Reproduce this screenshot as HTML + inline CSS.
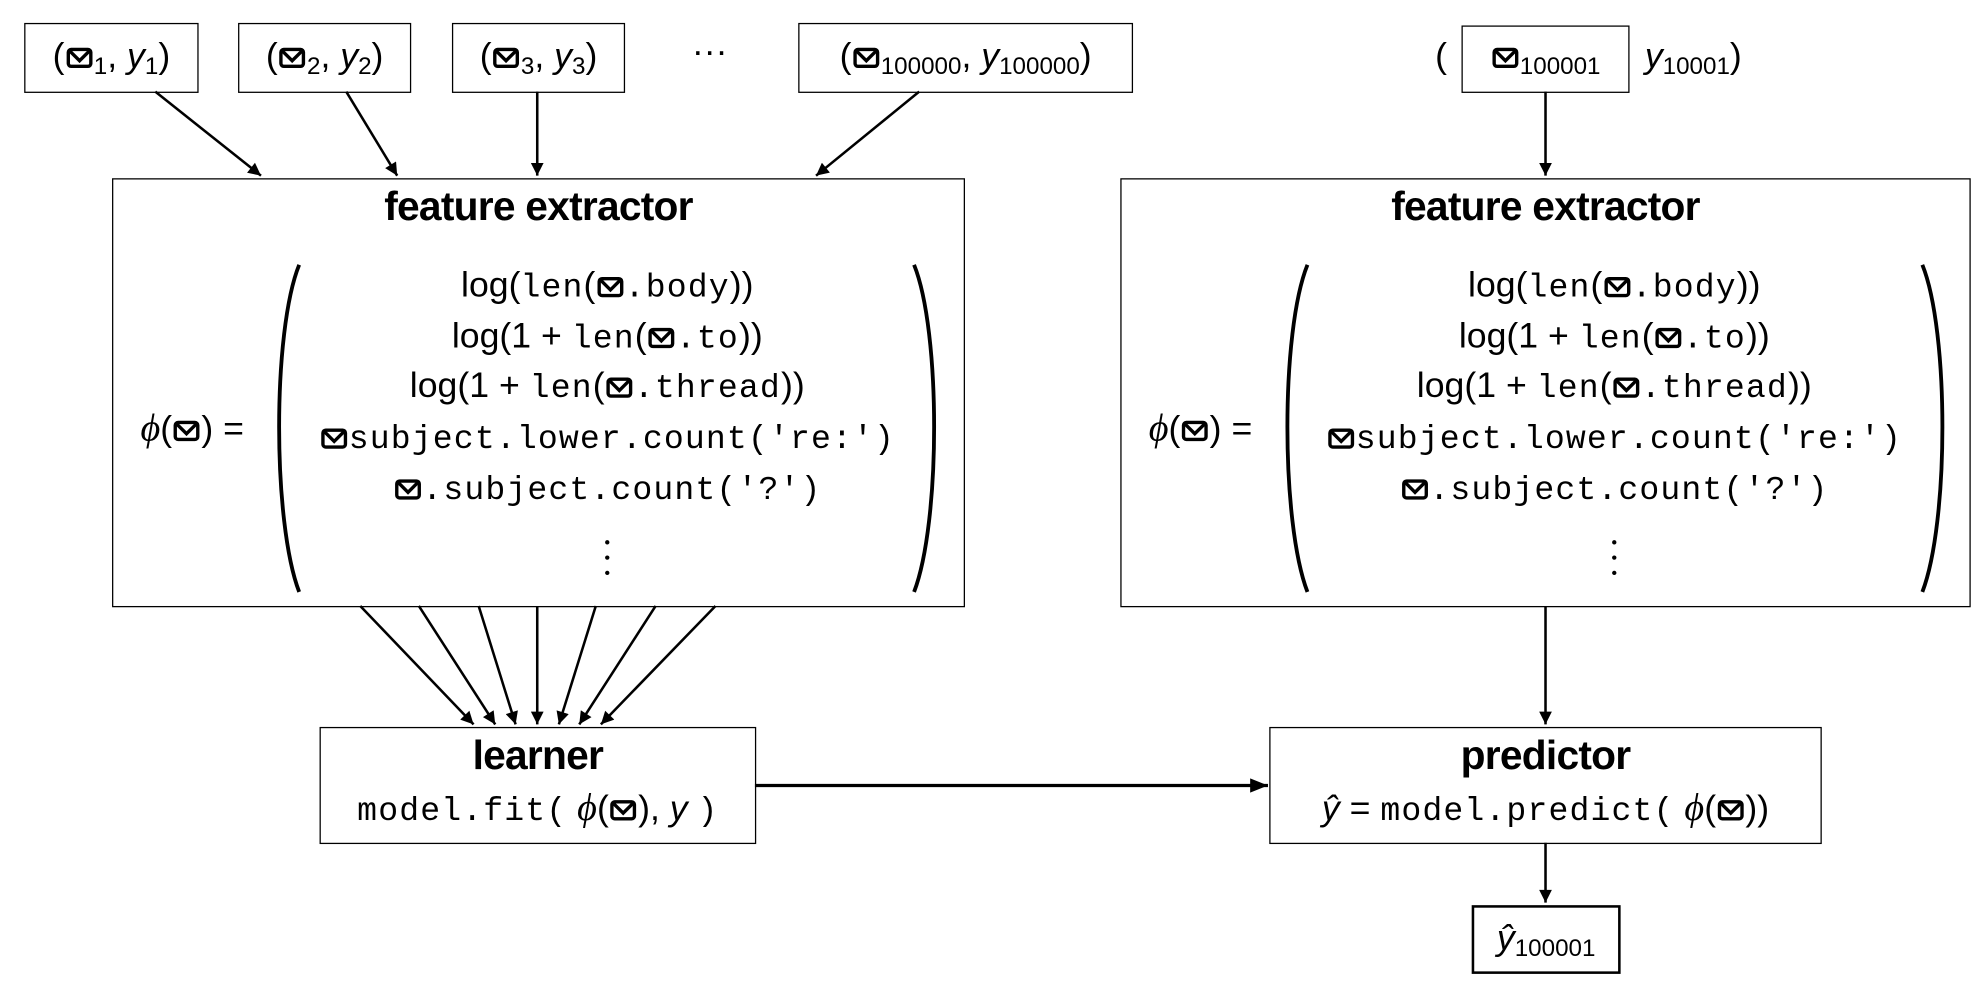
<!DOCTYPE html>
<html><head><meta charset="utf-8"><style>
html,body{margin:0;padding:0;background:#fff;}
body{width:1986px;height:994px;overflow:hidden;position:relative;}
#w{position:absolute;left:0;top:0;width:1560px;height:781px;transform:scale(1.27308);transform-origin:0 0;font-family:"Liberation Sans",sans-serif;color:#000;}
.b{position:absolute;border:1.5px solid #000;box-sizing:border-box;}
.t{position:absolute;white-space:nowrap;text-align:center;font-size:28px;line-height:32px;}
.m{font-family:"Liberation Mono",monospace;font-size:26px;letter-spacing:0.9px;}
.ti{font-weight:bold;font-size:32px;letter-spacing:-0.6px;}
.e{display:inline-block;width:21px;height:17px;vertical-align:-1px;margin:0 1px;}
i{font-style:italic;}
.ph{font-family:"Liberation Serif",serif;font-style:italic;font-size:30px;}
sub{font-size:19px;vertical-align:-5px;line-height:0;}
svg.l{position:absolute;left:0;top:0;}
</style></head><body><div id="w">
<svg class="l" width="1560" height="781" viewBox="0 0 1560 781">
<defs><marker id="a" viewBox="0 0 10 10" refX="10" refY="5" markerWidth="13" markerHeight="10" markerUnits="userSpaceOnUse" orient="auto"><path d="M0,0 L10,5 L0,10 z"/></marker>
<marker id="a2" viewBox="0 0 10 10" refX="10" refY="5" markerWidth="14" markerHeight="14" markerUnits="userSpaceOnUse" orient="auto"><path d="M0,1 L10,5 L0,9 z"/></marker></defs>
<g stroke="#000" stroke-width="2" fill="none">
<line x1="122" y1="72" x2="205" y2="138" marker-end="url(#a)"/>
<line x1="272" y1="72" x2="312" y2="138" marker-end="url(#a)"/>
<line x1="422" y1="72" x2="422" y2="138" marker-end="url(#a)"/>
<line x1="722" y1="72" x2="641" y2="138" marker-end="url(#a)"/>
<line x1="1214" y1="72" x2="1214" y2="138" marker-end="url(#a)"/>
<line x1="283" y1="476" x2="372" y2="569" marker-end="url(#a)"/>
<line x1="329" y1="476" x2="389" y2="569" marker-end="url(#a)"/>
<line x1="376" y1="476" x2="405" y2="569" marker-end="url(#a)"/>
<line x1="422" y1="476" x2="422" y2="569" marker-end="url(#a)"/>
<line x1="468" y1="476" x2="439" y2="569" marker-end="url(#a)"/>
<line x1="515" y1="476" x2="455" y2="569" marker-end="url(#a)"/>
<line x1="562" y1="476" x2="472" y2="569" marker-end="url(#a)"/>
<line x1="1214" y1="476" x2="1214" y2="569" marker-end="url(#a)"/>
<line x1="1214" y1="662" x2="1214" y2="709" marker-end="url(#a)"/>
<line x1="593" y1="617" x2="996" y2="617" stroke-width="2.6" marker-end="url(#a2)"/>
<path d="M235,208 C214,260 214,410 235,465" stroke-width="3"/>
<path d="M718,208 C739,260 739,410 718,465" stroke-width="3"/>
<path d="M1027,208 C1006,260 1006,410 1027,465" stroke-width="3"/>
<path d="M1510,208 C1531,260 1531,410 1510,465" stroke-width="3"/>
</g>
<g fill="#000"><circle cx="477" cy="426" r="1.7"/><circle cx="477" cy="438" r="1.7"/><circle cx="477" cy="450" r="1.7"/>
<circle cx="1268" cy="426" r="1.7"/><circle cx="1268" cy="438" r="1.7"/><circle cx="1268" cy="450" r="1.7"/></g>
</svg>

<div class="b" style="left:19px;top:18px;width:137px;height:55px"></div>
<div class="b" style="left:187px;top:18px;width:136px;height:55px"></div>
<div class="b" style="left:355px;top:18px;width:136px;height:55px"></div>
<div class="b" style="left:627px;top:18px;width:263px;height:55px"></div>
<div class="b" style="left:1148px;top:20px;width:132px;height:53px"></div>
<div class="b" style="left:88px;top:140px;width:670px;height:337px"></div>
<div class="b" style="left:880px;top:140px;width:668px;height:337px"></div>
<div class="b" style="left:251px;top:571px;width:343px;height:92px"></div>
<div class="b" style="left:997px;top:571px;width:434px;height:92px"></div>
<div class="b" style="left:1156px;top:711px;width:117px;height:54px;border-width:2.5px"></div>

<div class="t" style="left:19px;width:137px;top:28px">(<svg class="e"><use href="#env"/></svg><sub>1</sub>, <i>y</i><sub>1</sub>)</div>
<div class="t" style="left:187px;width:136px;top:28px">(<svg class="e"><use href="#env"/></svg><sub>2</sub>, <i>y</i><sub>2</sub>)</div>
<div class="t" style="left:355px;width:136px;top:28px">(<svg class="e"><use href="#env"/></svg><sub>3</sub>, <i>y</i><sub>3</sub>)</div>
<div class="t" style="left:520px;width:75px;top:24px">···</div>
<div class="t" style="left:627px;width:263px;top:28px">(<svg class="e"><use href="#env"/></svg><sub>100000</sub>, <i>y</i><sub>100000</sub>)</div>
<div class="t" style="left:1122px;width:20px;top:28px">(</div>
<div class="t" style="left:1148px;width:132px;top:28px"><svg class="e"><use href="#env"/></svg><sub>100001</sub></div>
<div class="t" style="left:1292px;width:100px;top:28px;text-align:left"><i>y</i><sub>10001</sub>)</div>

<div class="t ti" style="left:88px;width:670px;top:146px">feature extractor</div>
<div class="t" style="left:94px;width:114px;top:321px"><span class="ph">ϕ</span>(<svg class="e"><use href="#env"/></svg>) =</div>
<div class="t" style="left:237px;width:480px;top:208px">log(<span class="m">len</span>(<svg class="e"><use href="#env"/></svg><span class="m">.body</span>))</div>
<div class="t" style="left:237px;width:480px;top:248px">log(1 + <span class="m">len</span>(<svg class="e"><use href="#env"/></svg><span class="m">.to</span>))</div>
<div class="t" style="left:237px;width:480px;top:287px">log(1 + <span class="m">len</span>(<svg class="e"><use href="#env"/></svg><span class="m">.thread</span>))</div>
<div class="t" style="left:237px;width:480px;top:327px"><svg class="e"><use href="#env"/></svg><span class="m">subject.lower.count('re:')</span></div>
<div class="t" style="left:237px;width:480px;top:367px"><svg class="e"><use href="#env"/></svg><span class="m">.subject.count('?')</span></div>

<div class="t ti" style="left:880px;width:668px;top:146px">feature extractor</div>
<div class="t" style="left:886px;width:114px;top:321px"><span class="ph">ϕ</span>(<svg class="e"><use href="#env"/></svg>) =</div>
<div class="t" style="left:1028px;width:480px;top:208px">log(<span class="m">len</span>(<svg class="e"><use href="#env"/></svg><span class="m">.body</span>))</div>
<div class="t" style="left:1028px;width:480px;top:248px">log(1 + <span class="m">len</span>(<svg class="e"><use href="#env"/></svg><span class="m">.to</span>))</div>
<div class="t" style="left:1028px;width:480px;top:287px">log(1 + <span class="m">len</span>(<svg class="e"><use href="#env"/></svg><span class="m">.thread</span>))</div>
<div class="t" style="left:1028px;width:480px;top:327px"><svg class="e"><use href="#env"/></svg><span class="m">subject.lower.count('re:')</span></div>
<div class="t" style="left:1028px;width:480px;top:367px"><svg class="e"><use href="#env"/></svg><span class="m">.subject.count('?')</span></div>

<div class="t ti" style="left:251px;width:343px;top:577px">learner</div>
<div class="t" style="left:251px;width:343px;top:619px"><span class="m">model.fit(</span> <span class="ph">ϕ</span>(<svg class="e"><use href="#env"/></svg>), <i>y</i> <span class="m">)</span></div>
<div class="t ti" style="left:997px;width:434px;top:577px">predictor</div>
<div class="t" style="left:997px;width:434px;top:619px"><i>ŷ</i> = <span class="m">model.predict(</span> <span class="ph">ϕ</span>(<svg class="e"><use href="#env"/></svg>))</div>
<div class="t" style="left:1156px;width:117px;top:721px"><i>ŷ</i><sub>100001</sub></div>

<svg width="0" height="0" style="position:absolute"><defs><symbol id="env" viewBox="0 0 19 15"><rect x="1.5" y="1.5" width="16" height="12" rx="2" fill="none" stroke="#000" stroke-width="2.4"/><polyline points="2.5,2.5 9.5,9.5 16.5,2.5" fill="none" stroke="#000" stroke-width="2.4"/></symbol></defs></svg>
</div></body></html>
